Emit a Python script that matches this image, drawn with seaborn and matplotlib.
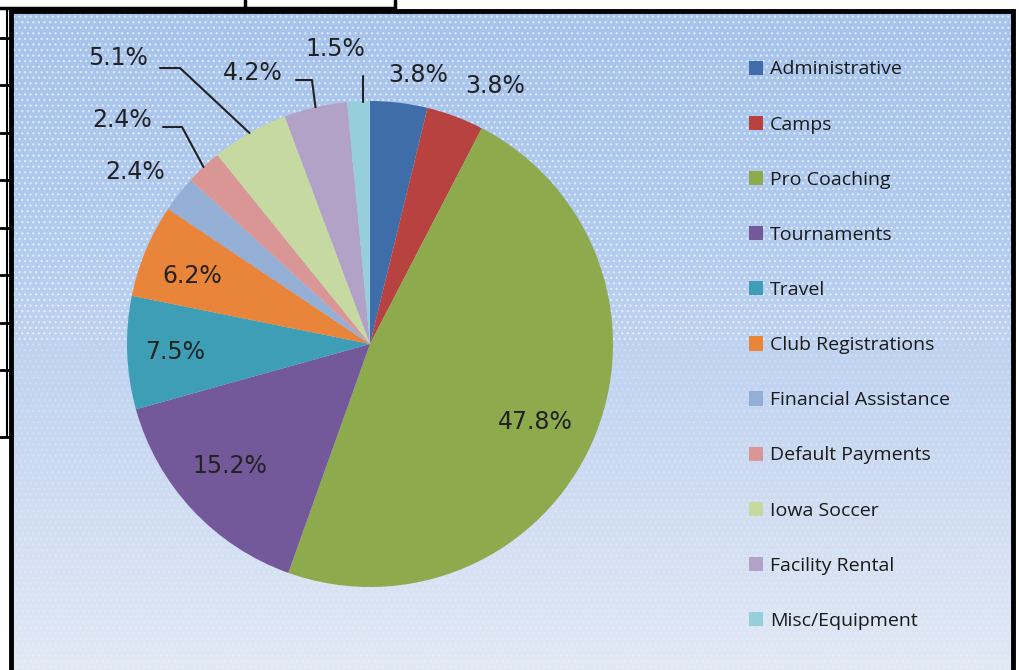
import numpy as np
import matplotlib
matplotlib.use("Agg")
import matplotlib.pyplot as plt
from matplotlib.patches import Rectangle
import seaborn as sns

# Datos del gráfico
categorias = ["Administrative", "Camps", "Pro Coaching", "Tournaments", "Travel",
              "Club Registrations", "Financial Assistance", "Default Payments",
              "Iowa Soccer", "Facility Rental", "Misc/Equipment"]
porcentajes = [3.8, 3.8, 47.8, 15.2, 7.5, 6.2, 2.4, 2.4, 5.1, 4.2, 1.5]
etiquetas = [f"{v:.1f}%" for v in porcentajes]

colores = ["#3F6DAA", "#B8423F", "#8DAB4D", "#73589A", "#3D9EB6", "#E9853A",
           "#94AFD6", "#D99694", "#C5D9A0", "#B3A2C7", "#97CEDC"]

sns.set_theme(style="white")
plt.rcParams['font.family'] = ['DejaVu Sans']

W, H = 1019, 670
fig = plt.figure(figsize=(W / 100, H / 100), dpi=100)
ax = fig.add_axes([0, 0, 1, 1])


def Y(py):
    return H - py


# fondo degradado del area del grafico
grad = np.linspace(0, 1, 256).reshape(-1, 1)
cmap = matplotlib.colors.LinearSegmentedColormap.from_list(
    "fondo", ["#a6c3ec", "#b2cbef", "#cad9f2", "#e2e9f5"])
ax.imshow(grad, extent=(10, 1013, Y(675), Y(10)), cmap=cmap, aspect="auto",
          origin="upper", zorder=0)
ax.add_patch(Rectangle((10, Y(340)), 1003, 330, fill=False, hatch="...",
                       edgecolor="white", linewidth=0, alpha=0.5, zorder=0.5))
ax.add_patch(Rectangle((10, Y(675)), 1003, 335, fill=False, hatch="...",
                       edgecolor="white", linewidth=0, alpha=0.18, zorder=0.5))
ax.add_patch(Rectangle((11, Y(680)), 1002, 669, fill=False, edgecolor="black",
                       linewidth=3.5, zorder=5, clip_on=False))

# restos de la tabla de la hoja de calculo
ax.plot([0, 395, 395], [Y(8), Y(8), Y(0)], color="black", lw=2.5)
ax.plot([245, 245], [Y(0), Y(8)], color="black", lw=2.5)
ax.plot([7, 7], [Y(8), Y(437)], color="black", lw=1.5)
for py in [38, 85, 133, 180, 228, 275, 323, 370, 437]:
    ax.plot([0, 10], [Y(py), Y(py)], color="black", lw=2)

# grafico de torta
cx, cy, r = 370, 344, 243
wedges, _ = ax.pie(porcentajes, colors=colores, startangle=90, counterclock=False,
                   center=(cx, Y(cy)), radius=r, frame=True,
                   wedgeprops=dict(linewidth=0))
ax.set_xlim(0, W)
ax.set_ylim(0, H)
ax.set_aspect("equal")
ax.axis("off")

# posiciones de las etiquetas (pixeles)
pos_etiquetas = [(418, 75), (495, 86), (535, 422), (230, 466), (175, 352), (192, 276),
                 (135, 172), (122, 120), (118, 58), (253, 73), (335, 49)]
for (px, py), t in zip(pos_etiquetas, etiquetas):
    ax.text(px, Y(py), t, ha="center", va="center", fontsize=17, color="#222222",
            zorder=6)

# lineas guia: (indice, inicio del texto, codo)
guias = [(7, (163, 127), (182, 127)), (8, (160, 68), (180, 68)),
         (9, (296, 80), (312, 80))]
for i, p0, p1 in guias:
    w = wedges[i]
    ang = np.deg2rad((w.theta1 + w.theta2) / 2)
    ex, ey = cx + r * np.cos(ang), Y(cy) + r * np.sin(ang)
    ax.plot([p0[0], p1[0], ex], [Y(p0[1]), Y(p1[1]), ey], color="#222222", lw=1.5,
            zorder=6)
# guia vertical del 1.5%
ax.plot([363, 363], [Y(76), Y(cy) + r * 0.995], color="#222222", lw=1.5, zorder=6)

leg = ax.legend(wedges, categorias, loc="upper left",
                bbox_to_anchor=(731 / W, 1 - 43 / H), frameon=False,
                prop={"family": "Open Sans", "size": 14}, labelspacing=1.91,
                handlelength=0.75, handleheight=0.75, handletextpad=0.35)
for t in leg.get_texts():
    t.set_color("#1a1a1a")

fig.savefig("out.png", dpi=100, facecolor="white")
